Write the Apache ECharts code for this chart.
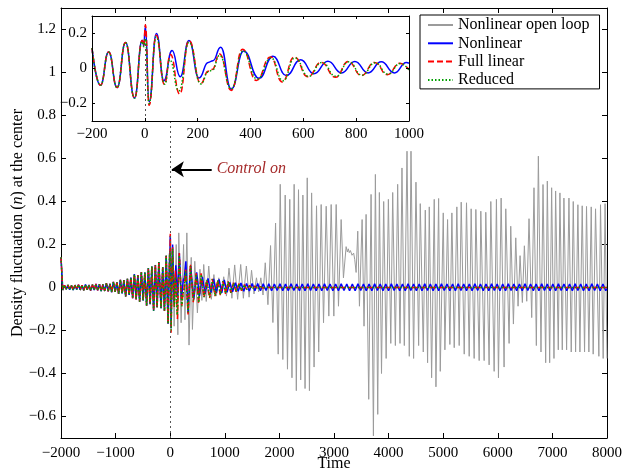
<!DOCTYPE html>
<html>
<head>
<meta charset="utf-8">
<script src="https://cdn.jsdelivr.net/npm/echarts@6/dist/echarts.min.js"></script>
<style>
  html, body { margin: 0; padding: 0; background: #fff; }
  #chart { width: 624px; height: 471px; }
</style>
</head>
<body>
<div id="chart"></div>
<script>
// Density fluctuation at the center, [time, n] turning points of each trace.

// Before control all models follow the same growing oscillation
const preControl = [
  [-2000, 0.14], [-1968, -0.012], [-1936, 0.010], [-1904, -0.008], [-1872, 0.012], [-1840, -0.010],
  [-1808, 0.009], [-1776, -0.012], [-1744, 0.011], [-1712, -0.009], [-1680, 0.013], [-1648, -0.011],
  [-1616, 0.010], [-1584, -0.013], [-1552, 0.014], [-1520, -0.010], [-1488, 0.012], [-1456, -0.014],
  [-1424, 0.013], [-1392, -0.012], [-1360, 0.016], [-1328, -0.013], [-1296, 0.015], [-1264, -0.017],
  [-1232, 0.014], [-1200, -0.016], [-1168, 0.020], [-1136, -0.018], [-1104, 0.017], [-1072, -0.022],
  [-1040, 0.026], [-1008, -0.020], [-976, 0.024], [-944, -0.030], [-912, 0.036], [-880, -0.028],
  [-848, 0.034], [-816, -0.042], [-784, 0.040], [-752, -0.035], [-720, 0.046], [-688, -0.050],
  [-656, 0.062], [-624, -0.055], [-592, 0.058], [-560, -0.066], [-528, 0.072], [-496, -0.060],
  [-464, 0.070], [-432, -0.085], [-400, 0.090], [-368, -0.078], [-336, 0.098], [-304, -0.108],
  [-272, 0.105], [-240, -0.092], [-208, 0.118]
];

// Window -200 .. 1000 (shown enlarged in the inset)
const nonlinearEarly = [
  [-200, 0.116], [-168, -0.096], [-137, 0.094], [-105, -0.109], [-73, 0.148], [-39, -0.169],
  [-10, 0.162], [-4, 0.13], [2, 0.24], [16, -0.19], [44, 0.20], [72, -0.07], [103, 0.103],
  [134, -0.047], [167, 0.16], [205, -0.054], [240, 0.035], [258, 0.045], [287, 0.122],
  [327, -0.118], [374, 0.10], [432, -0.056], [485, 0.07], [535, -0.04], [590, 0.05],
  [640, -0.03], [693, 0.042], [745, -0.025], [795, 0.04], [845, -0.025], [895, 0.038],
  [945, -0.025], [990, 0.035], [1000, 0.03]
];
const fullLinearEarly = [
  [-200, 0.116], [-168, -0.096], [-137, 0.094], [-105, -0.109], [-73, 0.148], [-39, -0.169],
  [-10, 0.16], [-4, 0.13], [2, 0.25], [16, -0.21], [43, 0.19], [74, -0.09], [97, 0.08],
  [132, -0.146], [167, 0.16], [212, -0.085], [240, -0.015], [255, -0.005], [283, 0.083],
  [327, -0.125], [370, 0.11], [422, -0.068], [476, 0.066], [520, -0.077], [566, 0.066],
  [617, -0.047], [668, 0.035], [722, -0.05], [770, 0.04], [820, -0.04], [870, 0.035],
  [918, -0.035], [965, 0.03], [1000, -0.008]
];
const reducedEarly = [
  [-200, 0.116], [-168, -0.096], [-137, 0.094], [-105, -0.109], [-73, 0.148], [-39, -0.169],
  [-10, 0.155], [-4, 0.125], [2, 0.17], [16, -0.2], [43, 0.18], [76, -0.09], [94, 0.05],
  [129, -0.128], [167, 0.15], [212, -0.088], [240, -0.02], [255, -0.01], [283, 0.075],
  [327, -0.115], [372, 0.10], [425, -0.06], [478, 0.06], [523, -0.07], [568, 0.06],
  [620, -0.045], [670, 0.035], [724, -0.045], [772, 0.038], [822, -0.038], [872, 0.033],
  [920, -0.032], [967, 0.028], [1000, -0.008]
];

// After t = 1000
const nonlinearLate = [
  [1041, -0.022], [1092, 0.024], [1143, -0.02], [1194, 0.022], [1245, -0.018], [1296, 0.021],
  [1347, -0.017], [1398, 0.019], [1449, -0.016], [1500, 0.018], [1551, -0.015], [1602, 0.018],
  [1653, -0.015], [1704, 0.017], [1755, -0.014], [1806, 0.017], [1857, -0.015], [1908, 0.016],
  [1959, -0.014], [2010, 0.017], [2061, -0.015], [2112, 0.016], [2163, -0.015], [2214, 0.017],
  [2265, -0.014], [2316, 0.016], [2367, -0.015], [2418, 0.016], [2469, -0.015], [2520, 0.017],
  [2571, -0.014], [2622, 0.016], [2673, -0.015], [2724, 0.016], [2775, -0.015], [2826, 0.017],
  [2877, -0.014], [2928, 0.016], [2979, -0.015], [3030, 0.016], [3081, -0.015], [3132, 0.017],
  [3183, -0.014], [3234, 0.016], [3285, -0.015], [3336, 0.016], [3387, -0.015], [3438, 0.017],
  [3489, -0.014], [3540, 0.016], [3591, -0.015], [3642, 0.016], [3693, -0.015], [3744, 0.017],
  [3795, -0.014], [3846, 0.016], [3897, -0.015], [3948, 0.016], [3999, -0.015], [4050, 0.017],
  [4101, -0.014], [4152, 0.016], [4203, -0.015], [4254, 0.016], [4305, -0.015], [4356, 0.017],
  [4407, -0.014], [4458, 0.016], [4509, -0.015], [4560, 0.016], [4611, -0.015], [4662, 0.017],
  [4713, -0.014], [4764, 0.016], [4815, -0.015], [4866, 0.016], [4917, -0.015], [4968, 0.017],
  [5019, -0.014], [5070, 0.016], [5121, -0.015], [5172, 0.016], [5223, -0.015], [5274, 0.017],
  [5325, -0.014], [5376, 0.016], [5427, -0.015], [5478, 0.016], [5529, -0.015], [5580, 0.017],
  [5631, -0.014], [5682, 0.016], [5733, -0.015], [5784, 0.016], [5835, -0.015], [5886, 0.017],
  [5937, -0.014], [5988, 0.016], [6039, -0.015], [6090, 0.016], [6141, -0.015], [6192, 0.017],
  [6243, -0.014], [6294, 0.016], [6345, -0.015], [6396, 0.016], [6447, -0.015], [6498, 0.017],
  [6549, -0.014], [6600, 0.016], [6651, -0.015], [6702, 0.016], [6753, -0.015], [6804, 0.017],
  [6855, -0.014], [6906, 0.016], [6957, -0.015], [7008, 0.016], [7059, -0.015], [7110, 0.017],
  [7161, -0.014], [7212, 0.016], [7263, -0.015], [7314, 0.016], [7365, -0.015], [7416, 0.017],
  [7467, -0.014], [7518, 0.016], [7569, -0.015], [7620, 0.016], [7671, -0.015], [7722, 0.017],
  [7773, -0.014], [7824, 0.016], [7875, -0.015], [7926, 0.016], [7977, -0.015], [8000, -0.005]
];
const fullLinearLate = [
  [1013, -0.03], [1062, 0.028], [1110, -0.025], [1160, 0.022], [1208, -0.02], [1258, 0.018],
  [1306, -0.015], [1356, 0.013], [1404, -0.011], [1454, 0.01], [1502, -0.008], [1552, 0.007],
  [1600, -0.005], [1650, 0.004], [1700, -0.003], [1750, 0.002], [1800, 0], [8000, 0]
];
const reducedLate = [
  [1015, -0.027], [1064, 0.026], [1112, -0.023], [1162, 0.021], [1210, -0.019], [1260, 0.017],
  [1308, -0.014], [1358, 0.012], [1406, -0.01], [1456, 0.009], [1504, -0.007], [1554, 0.006],
  [1602, -0.005], [1652, 0.004], [1702, -0.003], [1752, 0.002], [1800, 0], [8000, 0]
];

// Uncontrolled nonlinear run from t = -200 on
const openLoop = [
  [-200, 0.116], [-168, -0.096], [-137, 0.094], [-105, -0.109], [-73, 0.148], [-39, -0.169],
  [-10, 0.162], [2, 0.245], [16, -0.19], [44, 0.19], [72, -0.18], [110, 0.2], [140, -0.22],
  [157, 0.254], [200, -0.164], [245, 0.2], [270, -0.15], [305, 0.254], [345, -0.268],
  [385, 0.14], [407, -0.195], [450, 0.122], [498, -0.118], [545, 0.085], [580, -0.06],
  [614, 0.107], [660, -0.065], [706, 0.1], [754, -0.055], [800, 0.06], [845, -0.04],
  [890, 0.045], [935, -0.03], [980, 0.05], [1030, -0.04], [1077, 0.09], [1130, -0.05],
  [1181, 0.105], [1235, -0.055], [1291, 0.107], [1340, -0.05], [1395, 0.1], [1445, -0.045],
  [1490, 0.08], [1535, -0.03], [1580, 0.045], [1620, -0.02], [1660, 0.045], [1700, -0.035],
  [1741, 0.115], [1790, -0.08], [1838, 0.195], [1881, -0.163], [1930, 0.3], [1978, -0.31],
  [2015, 0.48], [2063, -0.335], [2106, 0.43], [2148, -0.38], [2190, 0.41], [2230, -0.42],
  [2270, 0.48], [2310, -0.48], [2350, 0.455], [2390, -0.43], [2430, 0.43], [2470, -0.47],
  [2510, 0.51], [2550, -0.48], [2590, 0.44], [2635, -0.37], [2680, 0.38], [2720, -0.3],
  [2765, 0.386], [2808, -0.164], [2857, 0.378], [2905, -0.133], [2948, 0.386], [2997, -0.133],
  [3040, 0.386], [3082, -0.087], [3131, 0.316], [3173, 0.045], [3222, 0.19], [3245, 0.165],
  [3262, 0.18], [3280, 0.162], [3300, 0.172], [3330, 0.15], [3360, 0.16], [3380, 0.13],
  [3405, 0.07], [3435, 0.262], [3466, -0.087], [3515, 0.316], [3550, -0.18], [3588, 0.34],
  [3636, -0.52], [3679, 0.433], [3722, -0.69], [3758, 0.526], [3801, -0.59], [3831, 0.442],
  [3870, -0.4], [3910, 0.4], [3955, -0.33], [3996, 0.41], [4040, -0.26], [4075, 0.442],
  [4124, -0.27], [4166, 0.48], [4209, -0.26], [4245, 0.556], [4288, -0.27], [4337, 0.634],
  [4379, -0.32], [4410, 0.634], [4458, -0.33], [4501, 0.49], [4550, -0.27], [4580, 0.39],
  [4635, -0.3], [4672, 0.36], [4714, -0.35], [4745, 0.375], [4788, -0.42], [4836, 0.41],
  [4867, -0.462], [4916, 0.414], [4946, -0.39], [5001, 0.347], [5031, -0.29], [5080, 0.316],
  [5122, -0.265], [5159, 0.347], [5202, -0.28], [5250, 0.375], [5293, -0.27], [5330, 0.397],
  [5385, -0.31], [5427, 0.394], [5476, -0.32], [5512, 0.366], [5567, -0.33], [5598, 0.363],
  [5659, -0.34], [5689, 0.355], [5750, -0.34], [5780, 0.35], [5841, -0.36], [5872, 0.4],
  [5933, -0.39], [5975, 0.41], [6012, -0.42], [6061, 0.416], [6115, -0.37], [6146, 0.366],
  [6207, -0.26], [6237, 0.285], [6286, -0.17], [6329, 0.231], [6371, -0.087], [6408, 0.148],
  [6450, -0.07], [6487, 0.194], [6530, -0.064], [6572, 0.32], [6621, -0.14], [6663, 0.464],
  [6706, -0.27], [6743, 0.611], [6791, -0.3], [6828, 0.479], [6877, -0.35], [6907, 0.495],
  [6950, -0.35], [6986, 0.464], [7029, -0.33], [7059, 0.449], [7108, -0.29], [7138, 0.44],
  [7181, -0.29], [7211, 0.416], [7260, -0.29], [7303, 0.416], [7345, -0.3], [7382, 0.4],
  [7425, -0.3], [7467, 0.385], [7504, -0.3], [7546, 0.38], [7589, -0.3], [7625, 0.377],
  [7668, -0.3], [7711, 0.375], [7747, -0.31], [7790, 0.366], [7851, -0.32], [7881, 0.385],
  [7930, -0.33], [7965, 0.39], [8000, -0.33]
];

// Axis ticks
const mainXTicks = { min: -2000, max: 8000, step: 1000 };
const mainYTicks = [-0.6, -0.4, -0.2, 0, 0.2, 0.4, 0.6, 0.8, 1, 1.2];
const insetXTicks = { min: -200, max: 1000, step: 200 };
const insetYTicks = [-0.2, 0, 0.2];

// Annotation
const controlOnTime = 0;
const controlArrow = { from: 760, to: 30, level: 0.55 };

const SERIF = 'Liberation Serif, Times New Roman, serif';
const fmt = v => String(Math.round(v * 1000) / 1000).replace('-', '\u2212');

const C_GRAY = '#9b9b9b', C_BLUE = '#0000ff', C_RED = '#ff0000', C_GREEN = '#00a000';

const labelStyle = { fontFamily: SERIF, fontSize: 15, color: '#000' };
const nameStyle = { fontFamily: SERIF, fontSize: 16, color: '#000' };
const blackLine = { lineStyle: { color: '#000', width: 1 } };

function xAxisPair(grid, range, tickLen, withName, z, labelMargin) {
  const base = {
    type: 'value', gridIndex: grid, min: range.min, max: range.max, interval: range.step, z: z,
    splitLine: { show: false }, axisLine: Object.assign({ show: true, onZero: false }, blackLine),
    axisTick: Object.assign({ show: true, inside: true, length: tickLen }, blackLine)
  };
  const bottom = Object.assign({}, base, {
    position: 'bottom',
    axisLabel: Object.assign({ margin: labelMargin, formatter: fmt }, labelStyle)
  });
  if (withName) {
    Object.assign(bottom, {
      name: 'Time', nameLocation: 'middle', nameGap: 18, nameMoveOverlap: false,
      nameTextStyle: Object.assign({ verticalAlign: 'top' }, nameStyle)
    });
  }
  const top = Object.assign({}, base, { position: 'top', axisLabel: { show: false } });
  return [bottom, top];
}

function yAxisPair(grid, min, max, ticks, tickLen, nameCfg, z) {
  const base = {
    type: 'value', gridIndex: grid, min: min, max: max, z: z,
    splitLine: { show: false }, axisLine: Object.assign({ show: true, onZero: false }, blackLine),
    axisTick: Object.assign({ show: true, inside: true, length: tickLen, customValues: ticks }, blackLine)
  };
  const left = Object.assign({}, base, {
    position: 'left',
    axisLabel: Object.assign({ margin: 5, customValues: ticks, formatter: fmt }, labelStyle)
  }, nameCfg || {});
  const right = Object.assign({}, base, { position: 'right', axisLabel: { show: false } });
  return [left, right];
}

const yName = {
  name: 'Density fluctuation ({i|n}) at the center',
  nameLocation: 'middle', nameGap: 35, nameMoveOverlap: false,
  nameTextStyle: Object.assign({}, nameStyle, {
    rich: { i: { fontFamily: SERIF, fontSize: 16, fontStyle: 'italic', color: '#000' } }
  })
};

function lineSeries(name, data, xi, yi, style, extra) {
  return Object.assign({
    name: name, type: 'line', data: data, xAxisIndex: xi, yAxisIndex: yi,
    showSymbol: false, symbol: 'none', animation: false, clip: true,
    itemStyle: { color: style.color },
    lineStyle: style
  }, extra || {});
}

const sBlue = { color: C_BLUE, width: 1.5, type: 'solid' };
const sRed = { color: C_RED, width: 1.5, type: [6, 3] };
const sGreen = { color: C_GREEN, width: 1.5, type: [1.5, 2] };

const insetSmooth = { smooth: 0.5, smoothMonotone: 'x', z: 6 };

const option = {
  backgroundColor: '#fff',
  animation: false,
  grid: [
    { left: 61, right: 17, top: 8, bottom: 33, show: false, outerBoundsMode: 'none', containLabel: false },
    { left: 92, right: 215, top: 16, bottom: 350, show: true, backgroundColor: '#fff', borderWidth: 0,
      z: 5, outerBoundsMode: 'none', containLabel: false }
  ],
  legend: {
    data: ['Nonlinear open loop', 'Nonlinear', 'Full linear', 'Reduced'],
    orient: 'vertical', left: 420, top: 15, z: 10,
    padding: [2, 10, 1, 7], itemGap: 2.3, itemWidth: 25, itemHeight: 15,
    borderColor: '#000', borderWidth: 1, backgroundColor: '#fff',
    selectedMode: false,
    itemStyle: { opacity: 0, borderWidth: 0 },
    textStyle: Object.assign({ lineHeight: 15 }, nameStyle)
  },
  xAxis: [].concat(
    xAxisPair(0, mainXTicks, 5, true, 0, 8),
    xAxisPair(1, insetXTicks, 3, false, 9, 6)
  ),
  yAxis: [].concat(
    yAxisPair(0, -0.7, 1.3, mainYTicks, 5, yName, 0),
    yAxisPair(1, -0.3, 0.3, insetYTicks, 3, null, 9)
  ),
  series: [
    lineSeries('Nonlinear open loop', preControl.concat(openLoop), 0, 0,
      { color: C_GRAY, width: 1 }, {
        z: 1,
        markLine: {
          silent: true, animation: false,
          label: { show: false },
          data: [
            [{ coord: [controlOnTime, -0.7], symbol: 'none' },
             { coord: [controlOnTime, 0.772], symbol: 'none' }]
          ],
          lineStyle: { color: '#555', width: 1, type: [2, 3] }
        }
      }),
    lineSeries('Nonlinear', preControl.concat(nonlinearEarly, nonlinearLate), 0, 0, sBlue, { z: 2 }),
    lineSeries('Full linear', preControl.concat(fullLinearEarly, fullLinearLate), 0, 0, sRed, { z: 3 }),
    lineSeries('Reduced', preControl.concat(reducedEarly, reducedLate), 0, 0, sGreen, {
      z: 4,
      markLine: {
        silent: true, animation: false,
        label: { show: false },
        symbol: ['none', 'arrow'], symbolSize: 12,
        itemStyle: { color: '#000' },
        lineStyle: { color: '#000', width: 2, type: 'solid' },
        data: [[{ coord: [controlArrow.from, controlArrow.level], symbol: 'none' },
                { coord: [controlArrow.to, controlArrow.level], symbol: 'arrow', symbolSize: 12 }]]
      },
      markPoint: {
        silent: true, animation: false,
        symbol: 'circle', symbolSize: 0,
        label: {
          show: true, position: 'right', distance: 5,
          formatter: 'Control on', fontFamily: SERIF, fontSize: 16,
          fontStyle: 'italic', color: '#a52a2a'
        },
        data: [{ coord: [controlArrow.from, controlArrow.level] }]
      }
    }),
    lineSeries('Nonlinear', nonlinearEarly, 2, 2, sBlue, Object.assign({}, insetSmooth, {
      markLine: {
        silent: true, animation: false, label: { show: false }, symbol: 'none',
        lineStyle: { color: '#555', width: 1, type: [2, 3] },
        data: [[{ coord: [controlOnTime, -0.3] }, { coord: [controlOnTime, 0.3] }]]
      }
    })),
    lineSeries('Full linear', fullLinearEarly, 2, 2, sRed, Object.assign({}, insetSmooth, { z: 7 })),
    lineSeries('Reduced', reducedEarly, 2, 2, sGreen, Object.assign({}, insetSmooth, { z: 8 }))
  ]
};

const chart = echarts.init(document.getElementById('chart'), null, { renderer: 'canvas' });
chart.setOption(option);
</script>
</body>
</html>
